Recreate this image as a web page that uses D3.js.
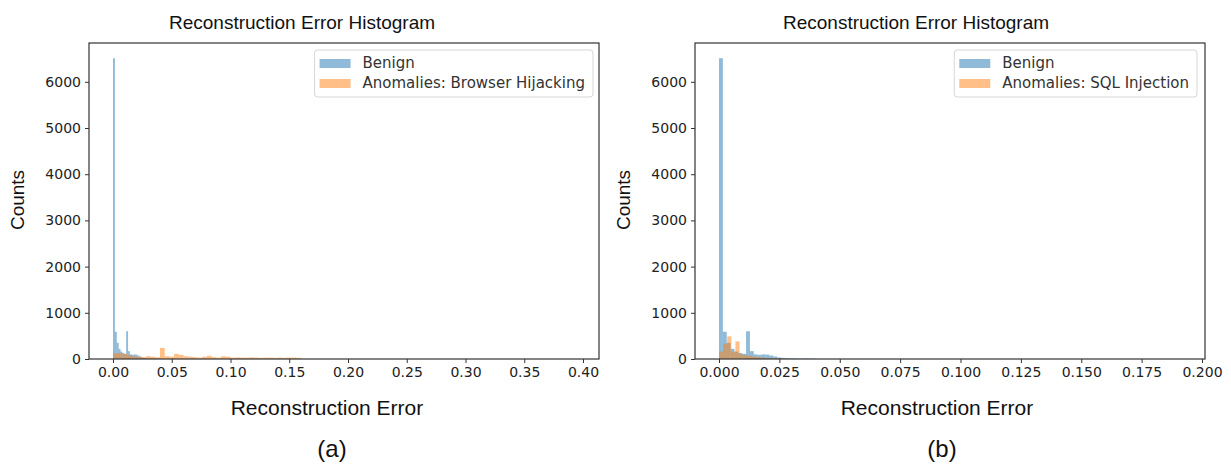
<!DOCTYPE html>
<meta charset="utf-8">
<style>
body { margin: 0; background: #fff; }
.title, .label { font-family: "Liberation Sans", Arial, sans-serif; fill: #111; }
.tick text { font-family: "DejaVu Sans", sans-serif; font-size: 14px; fill: #222; }
.tick line { stroke: #333; }
.legend text { font-family: "DejaVu Sans", sans-serif; font-size: 15px; fill: #333; }
</style>
<svg width="1231" height="466"></svg>
<script src="https://cdn.jsdelivr.net/npm/d3@7"></script>
<script>

// benign reconstruction errors, shared by both panels
var benignBinWidth = 0.0016;
var benignCounts = [6510, 590, 350, 220, 160, 130, 110, 600, 170, 100, 90, 100, 95, 75, 55,
                    35, 25, 18, 12, 15, 10, 8, 12, 6, 9];

// anomalies: browser hijacking (panel a)
var hijackBinWidth = 0.004;
var hijackCounts = [120, 130, 110, 80, 60, 50, 40, 60, 50, 35, 240, 60, 50, 110, 90, 60, 50, 40,
                    30, 50, 70, 40, 30, 60, 50, 30, 35, 30, 30, 35, 30, 25, 30, 30, 25, 30, 25,
                    30, 30, 25];

// anomalies: sql injection (panel b)
var sqlBinWidth = 0.0017;
var sqlCounts = [160, 330, 490, 160, 380, 100, 80, 70, 55, 45, 35, 28, 22, 18, 14, 10, 6];

var xTicksA = [0, 0.05, 0.10, 0.15, 0.20, 0.25, 0.30, 0.35, 0.40];
var xTicksB = [0, 0.025, 0.05, 0.075, 0.10, 0.125, 0.15, 0.175, 0.20];
var yTicks = [0, 1000, 2000, 3000, 4000, 5000, 6000];

var svg = d3.select("svg");

function toBins(counts, w) {
  return counts.map(function(c, i) { return {x0: i * w, x1: (i + 1) * w, n: c}; });
}

function panel(opt) {
  var width = opt.right - opt.left,
      height = opt.bottom - opt.top;

  var x = d3.scaleLinear().domain(opt.xDomain).range([0, width]),
      y = d3.scaleLinear().domain([0, 6840]).range([height, 0]);

  var g = svg.append("g")
      .attr("transform", "translate(" + opt.left + "," + opt.top + ")");

  var series = [
    {bins: toBins(benignCounts, benignBinWidth), color: "#1f77b4"},
    {bins: toBins(opt.anomCounts, opt.anomWidth), color: "#ff7f0e"}
  ];

  series.forEach(function(s) {
    g.append("g").selectAll("rect")
      .data(s.bins)
      .enter().append("rect")
        .attr("x", function(d) { return x(d.x0); })
        .attr("width", function(d) { return Math.max(0.8, x(d.x1) - x(d.x0)); })
        .attr("y", function(d) { return y(d.n); })
        .attr("height", function(d) { return height - y(d.n); })
        .attr("fill", s.color)
        .attr("fill-opacity", 0.5);
  });

  g.append("g")
      .attr("transform", "translate(0," + height + ")")
      .call(d3.axisBottom(x).tickValues(opt.xTicks).tickFormat(d3.format(opt.fmt))
        .tickSize(4).tickPadding(4))
      .call(function(a) { a.select(".domain").remove(); });

  g.append("g")
      .call(d3.axisLeft(y).tickValues(yTicks).tickFormat(d3.format("d"))
        .tickSize(4).tickPadding(4))
      .call(function(a) { a.select(".domain").remove(); });

  g.append("rect")
      .attr("width", width)
      .attr("height", height)
      .attr("fill", "none")
      .attr("stroke", "#333")
      .attr("stroke-width", 1.2);

  g.append("text")
      .attr("class", "title")
      .attr("x", opt.titleX - opt.left)
      .attr("y", 29 - opt.top)
      .attr("text-anchor", "middle")
      .style("font-size", "19px")
      .text("Reconstruction Error Histogram");

  g.append("text")
      .attr("class", "label")
      .attr("x", opt.labelX - opt.left)
      .attr("y", 415 - opt.top)
      .attr("text-anchor", "middle")
      .style("font-size", "21px")
      .text("Reconstruction Error");

  g.append("text")
      .attr("class", "label")
      .attr("transform", "translate(" + (opt.countsX - opt.left) + "," + (200 - opt.top) + ") rotate(-90)")
      .attr("text-anchor", "middle")
      .style("font-size", "19px")
      .text("Counts");

  g.append("text")
      .attr("class", "label")
      .attr("x", opt.labelX - opt.left + 5)
      .attr("y", 457 - opt.top)
      .attr("text-anchor", "middle")
      .style("font-size", "24px")
      .text(opt.tag);

  // legend
  var lg = g.append("g").attr("class", "legend");
  var names = ["Benign", opt.anomName];
  var texts = lg.selectAll("text")
    .data(names)
    .enter().append("text")
      .attr("y", function(d, i) { return 25 + i * 20; })
      .text(function(d) { return d; });
  var tw = d3.max(texts.nodes(), function(n) { return n.getComputedTextLength(); });
  var boxW = tw + 56, boxX = width - opt.legendGap - boxW;
  lg.insert("rect", "text")
      .attr("x", boxX)
      .attr("y", 7)
      .attr("width", boxW)
      .attr("height", 47)
      .attr("rx", 3)
      .attr("fill", "#fff")
      .attr("fill-opacity", 0.8)
      .attr("stroke", "#d6d6d6");
  texts.attr("x", boxX + 48);
  lg.selectAll(".sw")
    .data(series)
    .enter().append("rect")
      .attr("class", "sw")
      .attr("x", boxX + 5)
      .attr("y", function(d, i) { return 16 + i * 20; })
      .attr("width", 31)
      .attr("height", 9)
      .attr("fill", function(d) { return d.color; })
      .attr("fill-opacity", 0.5);
}

panel({
  left: 89, right: 599, top: 43, bottom: 359,
  xDomain: [-0.02043, 0.41362], xTicks: xTicksA, fmt: ".2f",
  anomCounts: hijackCounts, anomWidth: hijackBinWidth,
  anomName: "Anomalies: Browser Hijacking",
  titleX: 302, labelX: 327, countsX: 24, tag: "(a)", legendGap: 6
});

panel({
  left: 695, right: 1205, top: 43, bottom: 359,
  xDomain: [-0.00994, 0.20124], xTicks: xTicksB, fmt: ".3f",
  anomCounts: sqlCounts, anomWidth: sqlBinWidth,
  anomName: "Anomalies: SQL Injection",
  titleX: 916, labelX: 937, countsX: 630, tag: "(b)", legendGap: 8
});

</script>
